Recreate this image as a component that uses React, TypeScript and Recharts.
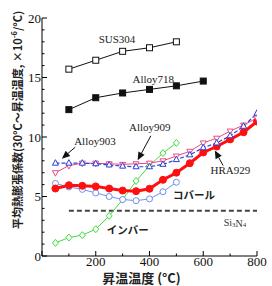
import { LineChart, Line, XAxis, YAxis, ReferenceDot, ReferenceLine } from "recharts";

// temperatures (°C) and mean CTE values (x10^-6/°C)
const temps50to800 = [50, 100, 150, 200, 250, 300, 350, 400, 450, 500, 550, 600, 650, 700, 750, 800];
const temps50to500 = [50, 100, 150, 200, 250, 300, 350, 400, 450, 500];
const sus304Temps = [100, 200, 300, 400, 500];
const sus304 = [15.7, 16.45, 17.2, 17.5, 18.0];
const alloy718Temps = [100, 200, 300, 400, 500, 600];
const alloy718 = [12.3, 13.3, 13.7, 14.0, 14.3, 14.7];
const alloy903 = [7.8, 7.8, 7.8, 7.75, 7.65, 7.55, 7.5, 7.5, 7.7, 8.1, 8.5, 9.1, 9.5, 10.1, 10.9, 12.0];
const alloy909 = [7.0, 7.6, 7.8, 7.8, 7.75, 7.7, 7.75, 7.8, 8.0, 8.4, 8.8, 9.5, 9.9, 10.5, 11.0, 11.6];
const hra929 = [5.67, 5.95, 5.9, 5.85, 5.67, 5.5, 5.45, 5.65, 6.4, 7.0, 7.8, 8.7, 9.2, 9.8, 10.4, 11.3];
const kovar = [6.1, 5.8, 5.6, 5.3, 5.0, 4.75, 4.65, 4.8, 5.4, 6.2];
const invar = [1.1, 1.55, 1.75, 2.25, 3.37, 4.74, 6.3, 7.6, 8.65, 9.5];
const si3n4Temps = [100, 800];
const si3n4 = [3.8, 3.8];

const xTicks = [0, 100, 200, 300, 400, 500, 600, 700, 800];
const yTicks = [0, 1, 2, 3, 4, 5, 6, 7, 8, 9, 10, 11, 12, 13, 14, 15, 16, 17, 18, 19, 20];

const pts = (t: number[], v: number[]) => t.map((x, i) => ({ t: x, v: v[i] }));

const SERIF = "'Liberation Serif', 'Times New Roman', serif";
const CJK = "'Noto Sans CJK JP', 'Noto Sans', sans-serif";

function makeTick(side: "bottom" | "top" | "left" | "right", showLabel: boolean) {
  return (props: any) => {
    const { x, y, payload } = props;
    const v = payload.value as number;
    const horiz = side === "bottom" || side === "top";
    const major = horiz ? v % 200 === 0 : v % 5 === 0;
    const len = major ? 5 : 2.5;
    let line;
    if (side === "bottom") line = <line x1={x} x2={x} y1={y} y2={y - len} stroke="#000" />;
    else if (side === "top") line = <line x1={x} x2={x} y1={y} y2={y + len} stroke="#000" />;
    else if (side === "left") line = <line x1={x} x2={x + len} y1={y} y2={y} stroke="#000" />;
    else line = <line x1={x} x2={x - len} y1={y} y2={y} stroke="#000" />;
    let label = null;
    if (showLabel && major) {
      if (side === "bottom" && v !== 0)
        label = (
          <text x={x} y={y + 10} textAnchor="middle" fontSize={13} fontFamily={SERIF} fill="#111">
            {v}
          </text>
        );
      if (side === "left")
        label = (
          <text x={x - 1} y={y + 4.5} textAnchor="end" fontSize={13} fontFamily={SERIF} fill="#111">
            {v}
          </text>
        );
    }
    return (
      <g>
        {line}
        {label}
      </g>
    );
  };
}

const openSquare = (p: any) => (
  <rect key={`os${p.index}`} x={p.cx - 3} y={p.cy - 3} width={6} height={6} fill="#fff" stroke="#111" strokeWidth={1} />
);
const filledSquare = (p: any) => (
  <rect key={`fs${p.index}`} x={p.cx - 3} y={p.cy - 3} width={6} height={6} fill="#111" stroke="#111" strokeWidth={1} />
);
const triUp = (color: string) => (p: any) => (
  <polygon
    key={`tu${p.index}`}
    points={`${p.cx},${p.cy - 3.5} ${p.cx - 3},${p.cy + 2} ${p.cx + 3},${p.cy + 2}`}
    fill="#fff"
    stroke={color}
    strokeWidth={1}
  />
);
const triDown = (color: string) => (p: any) => (
  <polygon
    key={`td${p.index}`}
    points={`${p.cx},${p.cy + 3.5} ${p.cx - 3},${p.cy - 2} ${p.cx + 3},${p.cy - 2}`}
    fill="#fff"
    stroke={color}
    strokeWidth={1}
  />
);
const diamond = (color: string) => (p: any) => (
  <polygon
    key={`dm${p.index}`}
    points={`${p.cx},${p.cy - 3.5} ${p.cx + 3},${p.cy} ${p.cx},${p.cy + 3.5} ${p.cx - 3},${p.cy}`}
    fill="#fff"
    stroke={color}
    strokeWidth={1}
  />
);

const arrowShape = (p: any) => {
  const { x1, y1, x2, y2 } = p;
  const dx = x2 - x1;
  const dy = y2 - y1;
  const d = Math.sqrt(dx * dx + dy * dy) || 1;
  const ux = dx / d;
  const uy = dy / d;
  const bx = x2 - ux * 8;
  const by = y2 - uy * 8;
  return (
    <g>
      <line x1={x1} y1={y1} x2={bx} y2={by} stroke="#111" strokeWidth={1} />
      <polygon points={`${x2},${y2} ${bx - uy * 3.5},${by + ux * 3.5} ${bx + uy * 3.5},${by - ux * 3.5}`} fill="#111" />
    </g>
  );
};

const serifLabel = (s: string) => ({
  content: (p: any) => (
    <text x={p.viewBox.x} y={p.viewBox.y} textAnchor="middle" dominantBaseline="central" fontSize={11} fontFamily={SERIF} fill="#222">
      {s}
    </text>
  ),
});
const cjkLabel = (s: string) => ({
  content: (p: any) => (
    <text x={p.viewBox.x} y={p.viewBox.y} textAnchor="middle" dominantBaseline="central" fontSize={10.5} fontWeight="bold" fontFamily={CJK} fill="#222">
      {s}
    </text>
  ),
});

export default function App() {
  return (
    <div style={{ position: "absolute", left: 0, top: 0, background: "#fff" }}>
      <LineChart width={272} height={286} margin={{ top: 18, right: 15, bottom: 0, left: 0 }}>
        <XAxis
          dataKey="t"
          type="number"
          domain={[0, 800]}
          ticks={xTicks}
          interval={0}
          height={30}
          tickSize={0}
          tickMargin={0}
          stroke="#000"
          allowDataOverflow
          tick={makeTick("bottom", true)}
          label={{
            content: (p: any) => (
              <text
                x={p.viewBox.x + p.viewBox.width / 2 - 8}
                y={p.viewBox.y + 26.5}
                textAnchor="middle"
                fontSize={13}
                fontWeight="bold"
                fontFamily={CJK}
                fill="#222"
              >
                昇温温度 (°C)
              </text>
            ),
          }}
        />
        <XAxis
          xAxisId="top"
          orientation="top"
          dataKey="t"
          type="number"
          domain={[0, 800]}
          ticks={xTicks}
          interval={0}
          height={0}
          tickSize={0}
          tickMargin={0}
          stroke="#000"
          allowDataOverflow
          tick={makeTick("top", false)}
        />
        <YAxis
          type="number"
          domain={[0, 20]}
          ticks={yTicks}
          interval={0}
          width={42}
          tickSize={0}
          tickMargin={0}
          stroke="#000"
          allowDataOverflow
          tick={makeTick("left", true)}
          label={{
            content: (p: any) => {
              const cx = p.viewBox.x + 17;
              const cy = p.viewBox.y + p.viewBox.height / 2 - 17;
              return (
                <text
                  x={cx}
                  y={cy}
                  transform={`rotate(-90 ${cx} ${cy})`}
                  textAnchor="middle"
                  dominantBaseline="central"
                  fontSize={11}
                  fontWeight="bold"
                  fontFamily={CJK}
                  fill="#222"
                >
                  平均熱膨張係数(30°C～昇温温度, ×10
                  <tspan dy={-4} fontSize={7.5}>
                    -6
                  </tspan>
                  <tspan dy={4}>/°C)</tspan>
                </text>
              );
            },
          }}
        />
        <YAxis
          yAxisId="right"
          orientation="right"
          type="number"
          domain={[0, 20]}
          ticks={yTicks}
          interval={0}
          width={0}
          tickSize={0}
          tickMargin={0}
          stroke="#000"
          allowDataOverflow
          tick={makeTick("right", false)}
        />

        <Line data={pts(si3n4Temps, si3n4)} dataKey="v" stroke="#444" strokeWidth={2} strokeDasharray="5 3" dot={false} isAnimationActive={false} />
        <Line data={pts(sus304Temps, sus304)} dataKey="v" stroke="#111" strokeWidth={1} dot={openSquare} isAnimationActive={false} />
        <Line data={pts(alloy718Temps, alloy718)} dataKey="v" stroke="#111" strokeWidth={1} dot={filledSquare} isAnimationActive={false} />
        <Line data={pts(temps50to500, invar)} dataKey="v" stroke="#3fdc3f" strokeWidth={1} dot={diamond("#3fdc3f")} isAnimationActive={false} />
        <Line data={pts(temps50to500, kovar)} dataKey="v" stroke="#6f8ff0" strokeWidth={1} dot={{ r: 3, fill: "#fff", stroke: "#6f8ff0", strokeWidth: 1 }} isAnimationActive={false} />
        <Line data={pts(temps50to800, hra929)} dataKey="v" stroke="#ff1010" strokeWidth={3} dot={{ r: 3.5, fill: "#ff1010", stroke: "#ff1010", strokeWidth: 1 }} isAnimationActive={false} />
        <Line data={pts(temps50to800, alloy909)} dataKey="v" stroke="#ec4a80" strokeWidth={1} dot={triDown("#ec4a80")} isAnimationActive={false} />
        <Line data={pts(temps50to800, alloy903)} dataKey="v" stroke="#2b3fd6" strokeWidth={1.2} strokeDasharray="4 2" dot={triUp("#2b3fd6")} isAnimationActive={false} />

        <ReferenceLine segment={[{ x: 124, y: 9.15 }, { x: 74, y: 8.18 }]} shape={arrowShape} />
        <ReferenceLine segment={[{ x: 405, y: 10.1 }, { x: 356, y: 8.05 }]} shape={arrowShape} />
        <ReferenceLine segment={[{ x: 674, y: 7.6 }, { x: 643, y: 8.87 }]} shape={arrowShape} />

        <ReferenceDot x={279} y={18.2} r={0} fill="none" stroke="none" label={serifLabel("SUS304")} />
        <ReferenceDot x={414} y={14.9} r={0} fill="none" stroke="none" label={serifLabel("Alloy718")} />
        <ReferenceDot x={197} y={9.7} r={0} fill="none" stroke="none" label={serifLabel("Alloy903")} />
        <ReferenceDot x={401} y={10.8} r={0} fill="none" stroke="none" label={serifLabel("Alloy909")} />
        <ReferenceDot x={701} y={7.2} r={0} fill="none" stroke="none" label={serifLabel("HRA929")} />
        <ReferenceDot x={566} y={5.2} r={0} fill="none" stroke="none" label={cjkLabel("コバール")} />
        <ReferenceDot x={319} y={2.23} r={0} fill="none" stroke="none" label={cjkLabel("インバー")} />
        <ReferenceDot
          x={718}
          y={2.8}
          r={0}
          fill="none"
          stroke="none"
          label={{
            content: (p: any) => (
              <text x={p.viewBox.x} y={p.viewBox.y} textAnchor="middle" dominantBaseline="central" fontSize={10} fontFamily={SERIF} fill="#333">
                Si
                <tspan fontSize={7} dy={2}>3</tspan>
                <tspan dy={-2}>N</tspan>
                <tspan fontSize={7} dy={2}>4</tspan>
              </text>
            ),
          }}
        />
      </LineChart>
    </div>
  );
}
